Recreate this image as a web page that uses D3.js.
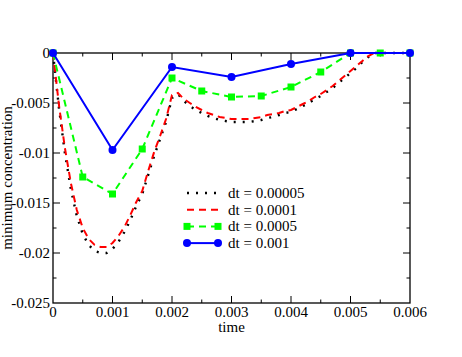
<!DOCTYPE html>
<html>
<head>
<meta charset="utf-8">
<script src="https://cdn.jsdelivr.net/npm/d3@7"></script>
<style>
  body { margin: 0; background: #fff; }
  text { font-family: "Liberation Serif", serif; }
</style>
</head>
<body>
<div id="chart"></div>
<script>
// time steps used by each series
const tFine = d3.range(0, 61).map(i => i * 0.0001);
const tHalf = d3.range(0, 13).map(i => i * 0.0005);
const tCoarse = d3.range(0, 7).map(i => i * 0.001);

// dt = 0.00005 (read at every 0.0001)
const dt00005 = [0, -0.0055, -0.0100, -0.0136, -0.0163, -0.0181, -0.0192, -0.0198, -0.0200, -0.0200,
  -0.0196, -0.0189, -0.0179, -0.0167, -0.0153, -0.0141, -0.0122, -0.0103, -0.0086, -0.0069,
  -0.0045, -0.0041, -0.0048, -0.0053, -0.0057, -0.0060, -0.0063, -0.0065, -0.0067, -0.0068,
  -0.0069, -0.0069, -0.0069, -0.0069, -0.0068, -0.0067, -0.0065, -0.0064, -0.0062, -0.0060,
  -0.0059, -0.0056, -0.0053, -0.0050, -0.0046, -0.0043, -0.0039, -0.0035, -0.0030, -0.0025,
  -0.0020, -0.0015, -0.0009, -0.0004, 0, 0, 0, 0, 0, 0, 0];
// dt = 0.0001
const dt0001 = [0, -0.0052, -0.0095, -0.0130, -0.0157, -0.0175, -0.0186, -0.0192, -0.0194, -0.0194,
  -0.0190, -0.0183, -0.0174, -0.0162, -0.0149, -0.0138, -0.0118, -0.0099, -0.0083, -0.0066,
  -0.0042, -0.0040, -0.0046, -0.0050, -0.0054, -0.0057, -0.0060, -0.0062, -0.0064, -0.0065,
  -0.0066, -0.0066, -0.0066, -0.0066, -0.0065, -0.0064, -0.0062, -0.0061, -0.0060, -0.0058,
  -0.0057, -0.0054, -0.0051, -0.0048, -0.0044, -0.0041, -0.0037, -0.0033, -0.0028, -0.0023,
  -0.0018, -0.0013, -0.0008, -0.0003, 0, 0, 0, 0, 0, 0, 0];
// dt = 0.0005
const dt0005 = [0, -0.0124, -0.0141, -0.0096, -0.0025, -0.0038, -0.0044, -0.0043, -0.0034, -0.0019, 0, 0, 0];
// dt = 0.001
const dt001 = [0, -0.0097, -0.0014, -0.0024, -0.0011, 0, 0];

const xTicks = [0, 0.001, 0.002, 0.003, 0.004, 0.005, 0.006];
const xTickLabels = ["0", "0.001", "0.002", "0.003", "0.004", "0.005", "0.006"];
const yTicks = [0, -0.005, -0.01, -0.015, -0.02, -0.025];
const yTickLabels = ["0", "-0.005", "-0.01", "-0.015", "-0.02", "-0.025"];

const series = [
  { label: "dt = 0.00005", t: tFine, v: dt00005, color: "#000", dash: "2,7", width: 2.4, marker: null },
  { label: "dt = 0.0001", t: tFine, v: dt0001, color: "#ff0000", dash: "7,5", width: 2, marker: null },
  { label: "dt = 0.0005", t: tHalf, v: dt0005, color: "#00ff00", dash: "7,5", width: 2, marker: "square" },
  { label: "dt = 0.001", t: tCoarse, v: dt001, color: "#0000ff", dash: null, width: 2, marker: "circle" }
];

const W = 462, H = 357;
const margin = { top: 53, right: 52, bottom: 54, left: 53 };
const w = W - margin.left - margin.right;
const h = H - margin.top - margin.bottom;

const svg = d3.select("#chart").append("svg")
  .attr("width", W).attr("height", H);
const g = svg.append("g").attr("transform", `translate(${margin.left},${margin.top})`);

const x = d3.scaleLinear().domain([0, 0.006]).range([0, w]);
const y = d3.scaleLinear().domain([-0.025, 0]).range([h, 0]);

const fs = 15;

// frame
g.append("rect").attr("width", w).attr("height", h)
  .attr("fill", "none").attr("stroke", "#000").attr("stroke-width", 1.3);

// ticks (inward, mirrored)
const xMinor = d3.range(0, 13).map(i => i * 0.0005).filter((d, i) => i % 2 === 1);
const yMinor = d3.range(0, 11).map(i => -i * 0.0025).filter((d, i) => i % 2 === 1);
const tickG = g.append("g").attr("stroke", "#000").attr("stroke-width", 1);
xTicks.slice(1, -1).forEach(d => {
  tickG.append("line").attr("x1", x(d)).attr("x2", x(d)).attr("y1", h).attr("y2", h - 7);
  tickG.append("line").attr("x1", x(d)).attr("x2", x(d)).attr("y1", 0).attr("y2", 7);
});
xMinor.forEach(d => {
  tickG.append("line").attr("x1", x(d)).attr("x2", x(d)).attr("y1", h).attr("y2", h - 3.5);
  tickG.append("line").attr("x1", x(d)).attr("x2", x(d)).attr("y1", 0).attr("y2", 3.5);
});
yTicks.slice(1, -1).forEach(d => {
  tickG.append("line").attr("y1", y(d)).attr("y2", y(d)).attr("x1", 0).attr("x2", 7);
  tickG.append("line").attr("y1", y(d)).attr("y2", y(d)).attr("x1", w).attr("x2", w - 7);
});
yMinor.forEach(d => {
  tickG.append("line").attr("y1", y(d)).attr("y2", y(d)).attr("x1", 0).attr("x2", 3.5);
  tickG.append("line").attr("y1", y(d)).attr("y2", y(d)).attr("x1", w).attr("x2", w - 3.5);
});

// tick labels
g.selectAll(".xl").data(xTicks).enter().append("text")
  .attr("x", d => x(d)).attr("y", h + 14)
  .attr("text-anchor", "middle").attr("font-size", fs)
  .text((d, i) => xTickLabels[i]);
g.selectAll(".yl").data(yTicks).enter().append("text")
  .attr("x", -3).attr("y", d => y(d) + 5)
  .attr("text-anchor", "end").attr("font-size", fs)
  .text((d, i) => yTickLabels[i]);

// axis titles
g.append("text").attr("x", w / 2).attr("y", h + 29)
  .attr("text-anchor", "middle").attr("font-size", fs).text("time");
svg.append("text")
  .attr("transform", `translate(12,${margin.top + h / 2}) rotate(-90)`)
  .attr("text-anchor", "middle").attr("font-size", fs).text("minimum concentration");

// series
const line = d3.line().x(d => x(d[0])).y(d => y(d[1]));
series.forEach(s => {
  const pts = s.t.map((t, i) => [t, s.v[i]]);
  g.append("path").datum(pts).attr("d", line)
    .attr("fill", "none").attr("stroke", s.color).attr("stroke-width", s.width)
    .attr("stroke-dasharray", s.dash);
  if (s.marker === "square") {
    g.selectAll(null).data(pts).enter().append("rect")
      .attr("x", d => x(d[0]) - 3.5).attr("y", d => y(d[1]) - 3.5)
      .attr("width", 7).attr("height", 7).attr("fill", s.color);
  } else if (s.marker === "circle") {
    g.selectAll(null).data(pts).enter().append("circle")
      .attr("cx", d => x(d[0])).attr("cy", d => y(d[1])).attr("r", 4)
      .attr("fill", s.color);
  }
});

// legend
const leg = svg.append("g").attr("transform", "translate(187,193)");
series.forEach((s, i) => {
  const yy = i * 16.7;
  leg.append("line").attr("x1", 0).attr("x2", 31).attr("y1", yy).attr("y2", yy)
    .attr("stroke", s.color).attr("stroke-width", s.width)
    .attr("stroke-dasharray", s.dash);
  if (s.marker === "square") {
    [0, 31].forEach(px => leg.append("rect").attr("x", px - 3.5).attr("y", yy - 3.5)
      .attr("width", 7).attr("height", 7).attr("fill", s.color));
  } else if (s.marker === "circle") {
    [0, 31].forEach(px => leg.append("circle").attr("cx", px).attr("cy", yy).attr("r", 4)
      .attr("fill", s.color));
  }
  leg.append("text").attr("x", 41).attr("y", yy + 5)
    .attr("font-size", fs).text(s.label);
});
</script>
</body>
</html>
